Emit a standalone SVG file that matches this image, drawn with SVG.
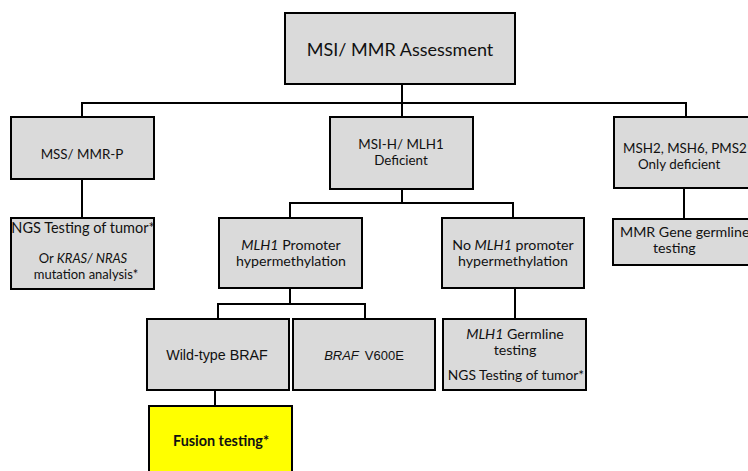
<svg xmlns="http://www.w3.org/2000/svg" width="748" height="471" viewBox="0 0 748 471">
<style>
.box{fill:#dadada;stroke:#000;stroke-width:2}
.yel{fill:#ffff00;stroke:#000;stroke-width:2}
.c{fill:none;stroke:#000;stroke-width:2}
text{font-family:Lato,"Open Sans",sans-serif;font-size:14.2px;fill:#111;text-anchor:middle}
.up{font-size:13.4px}
.s{text-anchor:start}
.ar{font-family:"Liberation Sans",Arial,sans-serif;font-size:14.3px}
.i{font-style:italic}
.sm{font-size:13px}
</style>
<rect width="748" height="471" fill="#fff"/>
<g id="connectors">
<path class="c" d="M402,84V117M82,117V103H686V117"/>
<path class="c" d="M82,179V218"/>
<path class="c" d="M402,189V203M290,218V203H513V218"/>
<path class="c" d="M684,188V219"/>
<path class="c" d="M290,288V304M218,319V304H365V319"/>
<path class="c" d="M515,288V319"/>
<path class="c" d="M215,390V406"/>
</g>
<g id="n-root"><rect class="box" x="285" y="13" width="230" height="71"/><text x="400" y="56" style="font-size:18px">MSI/ MMR Assessment</text></g>
<g id="n-mss"><rect class="box" x="11" y="117" width="143" height="62"/><text class="up" x="82" y="159">MSS/ MMR-P</text></g>
<g id="n-msih"><rect class="box" x="330" y="117" width="143" height="72"/><text class="up" x="401" y="149">MSI-H/ MLH1</text><text class="up" x="401" y="165">Deficient</text></g>
<g id="n-msh2"><rect class="box" x="614" y="117" width="150" height="71"/><text class="up s" x="623" y="153">MSH2, MSH6, PMS2</text><text class="up s" x="638" y="169">Only deficient</text></g>
<g id="n-ngs"><rect class="box" x="11" y="218" width="143" height="71"/><text x="83" y="233" style="font-size:14.5px">NGS Testing of tumor*</text><text x="83" y="263" class="sm">Or <tspan class="i">KRAS/ NRAS</tspan></text><text x="86" y="279" class="sm">mutation analysis*</text></g>
<g id="n-prom"><rect class="box" x="219" y="218" width="143" height="70"/><text x="291" y="250"><tspan class="i">MLH1</tspan> Promoter</text><text x="291" y="266">hypermethylation</text></g>
<g id="n-noprom"><rect class="box" x="442" y="218" width="142" height="70"/><text x="513" y="250">No <tspan class="i">MLH1</tspan> promoter</text><text x="513" y="266">hypermethylation</text></g>
<g id="n-mmr"><rect class="box" x="613" y="219" width="150" height="46"/><text class="s" x="620" y="237">MMR Gene germline</text><text class="s" x="653" y="253">testing</text></g>
<g id="n-wt"><rect class="box" x="147" y="319" width="142" height="71"/><text class="ar" x="217" y="360">Wild-type BRAF</text></g>
<g id="n-v600e"><rect class="box" x="293" y="319" width="142" height="71"/><text class="ar" x="364" y="360" style="font-size:13px"><tspan class="i">BRAF</tspan><tspan dx="6">V600E</tspan></text></g>
<g id="n-germ"><rect class="box" x="443" y="319" width="143" height="71"/><text x="515" y="339"><tspan class="i">MLH1</tspan> Germline</text><text x="515" y="355">testing</text><text x="516" y="380" style="font-size:13.8px">NGS Testing of tumor*</text></g>
<g id="n-fusion"><rect class="yel" x="149" y="406" width="143" height="80"/><text x="221" y="446" style="font-weight:bold;font-size:14.4px">Fusion testing*</text></g>
</svg>
